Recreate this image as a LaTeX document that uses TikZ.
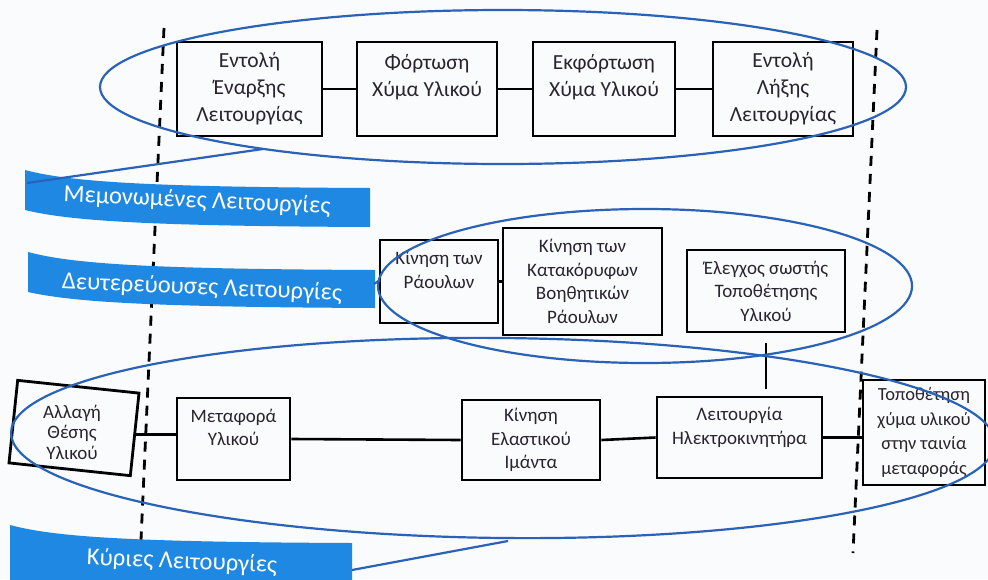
\documentclass[tikz,border=0pt]{standalone}
\usepackage{fontspec}
\setmainfont{Carlito}
\usetikzlibrary{calc}
\definecolor{ringblue}{HTML}{2A62B8}
\definecolor{bannerblue}{HTML}{1E88E2}
\definecolor{inkgray}{HTML}{2A2430}
\definecolor{paper}{HTML}{FAFBFD}
\tikzset{
  fbox/.style={draw=black, line width=2.8pt, inner sep=0pt, align=center, text=inkgray},
  topfont/.style={font=\fontsize{21.5}{27}\selectfont},
  midfont/.style={font=\fontsize{19}{23.5}\selectfont},
  link/.style={draw=black, line width=2.6pt},
  ring/.style={draw=ringblue, line width=2.2pt},
  banner/.style={fill=bannerblue, draw=none},
  bannertext/.style={text=white, font=\fontsize{24.5}{28}\selectfont, rotate=-2.5, inner sep=0pt},
  border/.style={draw=black, line width=2.8pt, dash pattern=on 10pt off 8pt},
}
\begin{document}
\begin{tikzpicture}[x=1pt,y=-1pt]
\useasboundingbox (0,0) rectangle (988,579);
\clip (0,0) rectangle (988,579);
\fill[paper] (0,0) rectangle (988,579);

% system borders
\coordinate (lt) at (164,28);  \coordinate (lb) at (141,540);
\coordinate (rt) at (877,30);  \coordinate (rb) at (853,553);
\draw[border] (lt) -- (lb);
\draw[border] (rt) -- (rb);

% isolated functions
\node[fbox, topfont, minimum width=145pt, minimum height=94pt] (b1) at (249.5,89) {Εντολή\\Έναρξης\\Λειτουργίας};
\node[fbox, topfont, minimum width=140pt, minimum height=94pt] (b2) at (427,89) {Φόρτωση\\Χύμα Υλικού\\\mbox{}};
\node[fbox, topfont, minimum width=142pt, minimum height=94pt] (b3) at (604,89) {Εκφόρτωση\\Χύμα Υλικού\\\mbox{}};
\node[fbox, topfont, minimum width=140pt, minimum height=94pt] (b4) at (783,89) {Εντολή\\Λήξης\\Λειτουργίας};
\draw[link] (b1) -- (b2);
\draw[link] (b2) -- (b3);
\draw[link] (b3) -- (b4);

% secondary functions
\node[fbox, midfont, minimum width=118pt, minimum height=83pt] (s1) at (439,281.5) {Κίνηση των\\Ράουλων\\\mbox{}};
\node[fbox, midfont, minimum width=159pt, minimum height=107pt] (s2) at (582.5,281.5) {Κίνηση των\\Κατακόρυφων\\Βοηθητικών\\Ράουλων};
\node[fbox, midfont, minimum width=158pt, minimum height=82pt] (s3) at (766,291) {Έλεγχος σωστής\\Τοποθέτησης\\Υλικού};
\draw[link] (s1.east) -- (s2.west |- s1.east);

% main functions (the first frame is slightly skewed, its text stays level)
\node[fbox, minimum width=122pt, minimum height=83pt, rotate=-6] (m1) at (74,428) {};
\node[align=center, text=inkgray, inner sep=0pt, font=\fontsize{19}{20.5}\selectfont] (m1t) at (72,432) {Αλλαγή\\Θέσης\\Υλικού};
\node[fbox, midfont, minimum width=113pt, minimum height=82pt] (m2) at (233.5,439) {Μεταφορά\\Υλικού\\\mbox{}};
\node[fbox, midfont, minimum width=138pt, minimum height=80pt] (m3) at (531,440) {Κίνηση\\Ελαστικού\\Ιμάντα};
\node[fbox, midfont, minimum width=165pt, minimum height=81pt] (m4) at (739.5,437.5) {Λειτουργία\\Ηλεκτροκινητήρα\\\mbox{}};
\node[fbox, font=\fontsize{18.5}{24.5}\selectfont, minimum width=122pt, minimum height=105pt] (m5) at (924,432.5) {Τοποθέτηση\\χύμα υλικού\\στην ταινία\\μεταφοράς};
\draw[link] (m1.east) -- (m1.east -| m2.west);
\draw[link] (m2.east) -- (m3.west);
\draw[link] (m3.east) -- (m4.west);
\draw[link] (m4.east) -- (m4.east -| m5.west);
\draw[link, shorten <=10pt, shorten >=7pt] (s3.south) -- (s3.south |- m4.north);

% groupings
\draw[ring] (503,87) ellipse [x radius=403pt, y radius=77pt];
\draw[ring] (645,286) ellipse [x radius=267pt, y radius=77pt];
\draw[ring, rotate around={-0.6:(503,438)}] (503,438) ellipse [x radius=492pt, y radius=100pt];

% banners
\fill[banner] (25,170) .. controls (70,182) and (150,187) .. (370,188) -- (370,227)
  .. controls (150,226) and (70,221) .. (25,210) -- cycle;
\node[bannertext] (t1) at (197,201) {Μεμονωμένες Λειτουργίες};
\fill[banner] (28,252) .. controls (73,264) and (150,269) .. (375,270) -- (375,308)
  .. controls (150,307) and (73,302) .. (28,292) -- cycle;
\node[bannertext] (t2) at (202,288) {Δευτερεύουσες Λειτουργίες};
\fill[banner] (10,525) .. controls (55,537) and (130,542) .. (352,543) -- (352,590) -- (10,590) -- cycle;
\node[bannertext] (t3) at (182,562) {Κύριες Λειτουργίες};

% callout leaders
\coordinate (c1a) at (263,149); \coordinate (c1b) at (27,183);
\coordinate (c2a) at (380,280); \coordinate (c2b) at (374,284);
\coordinate (c3a) at (508,541); \coordinate (c3b) at (352,570);
\draw[ring] (c1a) -- (c1b);
\draw[ring] (c2a) -- (c2b);
\draw[ring] (c3a) -- (c3b);
\end{tikzpicture}
\end{document}
